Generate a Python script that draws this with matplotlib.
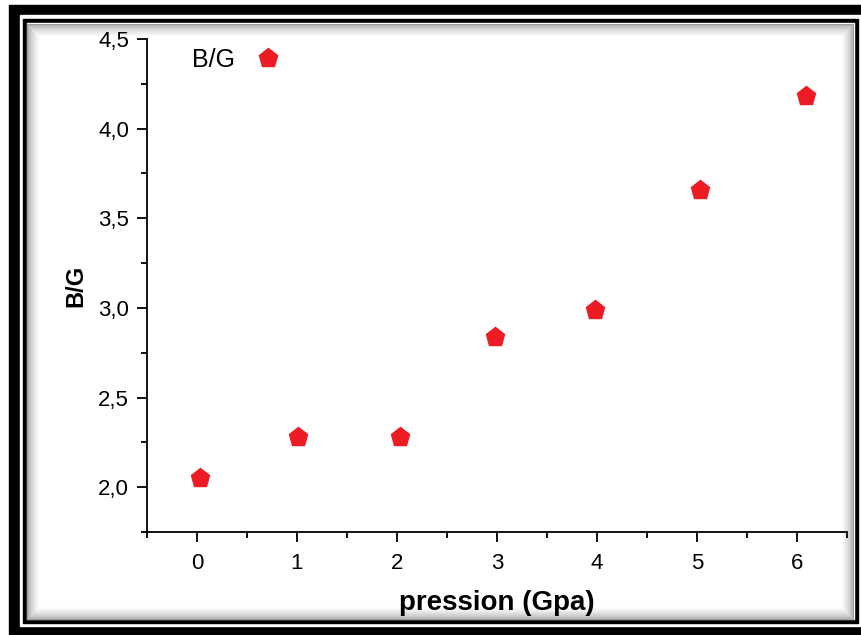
import matplotlib.pyplot as plt
from matplotlib.patches import Rectangle
from matplotlib.ticker import MultipleLocator, FuncFormatter

# ============================================
# DADOS
# ============================================
pression = [0.03, 1.01, 2.03, 2.98, 3.98, 5.03, 6.09]
bg_ratio = [2.05, 2.28, 2.28, 2.84, 2.99, 3.66, 4.18]

plt.rcParams['font.family'] = ['Liberation Sans', 'DejaVu Sans']

W, H = 862, 635
fig = plt.figure(figsize=(W / 100, H / 100), dpi=100)

# ============================================
# CADRE (bordure noire + ombre)
# ============================================
bg = fig.add_axes([0, 0, 1, 1], zorder=-1)
bg.set_xlim(0, W)
bg.set_ylim(H, 0)
bg.axis('off')
bg.add_patch(Rectangle((9, 5), W - 9, H - 5, color='black'))
bg.add_patch(Rectangle((20, 15), W - 20, 611, color='white'))
bg.add_patch(Rectangle((23, 19), 835, 604, color='black'))
bg.add_patch(Rectangle((27, 23), 827, 596, color='white'))
n = 12
for i in range(n):
    g = 0.62 + 0.38 * (i / n) ** 0.6
    bg.add_patch(Rectangle((27.5 + i, 23.5 + i), 826 - 2 * i, 595 - 2 * i,
                           fill=False, edgecolor=(g, g, g), lw=0.75))

# ============================================
# GRAPHIQUE
# ============================================
ax = fig.add_axes([147 / W, 103 / H, 700 / W, 493 / H])
ax.patch.set_alpha(0)

ax.plot(pression, bg_ratio, linestyle='none', marker='p', markersize=14,
        color='#ED1C24', markeredgecolor='#ED1C24', label='B/G')

ax.set_xlim(-0.5, 6.5)
ax.set_ylim(1.75, 4.5)

ax.xaxis.set_major_locator(MultipleLocator(1))
ax.xaxis.set_minor_locator(MultipleLocator(0.5))
ax.yaxis.set_major_locator(MultipleLocator(0.5))
ax.yaxis.set_minor_locator(MultipleLocator(0.25))
ax.yaxis.set_major_formatter(FuncFormatter(lambda v, p: f'{v:.1f}'.replace('.', ',')))

for s in ['top', 'right']:
    ax.spines[s].set_visible(False)
for s in ['left', 'bottom']:
    ax.spines[s].set_linewidth(1.3)

ax.tick_params(which='major', direction='out', length=7, width=1.3,
               labelsize=16, pad=6)
ax.tick_params(which='minor', direction='out', length=4, width=1.3)
ax.tick_params(axis='x', which='major', pad=8)

ax.set_xlabel('pression (Gpa)', fontsize=20, fontweight='bold', labelpad=12)
ax.set_ylabel('B/G', fontsize=17, fontweight='bold', labelpad=8)

ax.legend(loc='upper left', bbox_to_anchor=(45 / 700, 1 - 9 / 493),
          frameon=False, markerfirst=False, fontsize=18,
          borderaxespad=0, borderpad=0, handletextpad=0.3,
          handlelength=2.0)

fig.savefig('out.png', dpi=100)
